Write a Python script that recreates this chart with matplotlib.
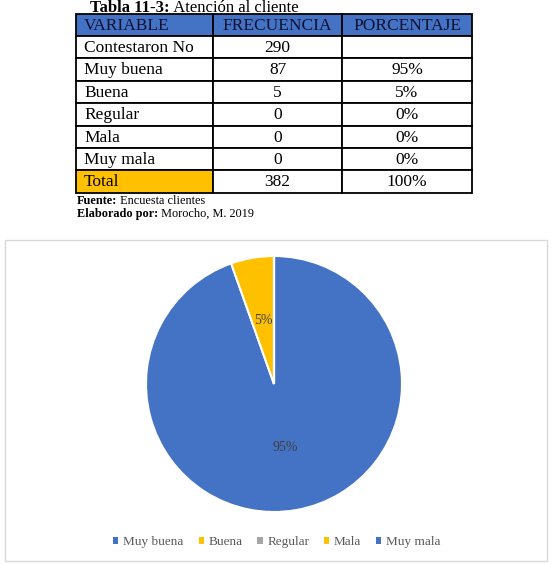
import matplotlib
matplotlib.use("Agg")
import matplotlib.pyplot as plt
from matplotlib.patches import Rectangle

# ---- data ----
table_header = ["VARIABLE", "FRECUENCIA", "PORCENTAJE"]
table_vars = ["Contestaron No", "Muy buena", "Buena", "Regular", "Mala", "Muy mala", "Total"]
table_freq = ["290", "87", "5", "0", "0", "0", "382"]
table_pct = ["", "95%", "5%", "0%", "0%", "0%", "100%"]

pie_labels = ["Muy buena", "Buena", "Regular", "Mala", "Muy mala"]
pie_values = [87, 5, 0, 0, 0]
pie_colors = ["#4472C4", "#FFC000", "#A5A5A5", "#FFC000", "#4472C4"]

W, H = 552, 564
fig = plt.figure(figsize=(W / 100, H / 100), dpi=100)
serif = "Liberation Serif"

# overlay axes in pixel coordinates
bg = fig.add_axes([0, 0, 1, 1])
bg.set_xlim(0, W)
bg.set_ylim(H, 0)
bg.axis("off")


def bold_then_normal(x, y, bold, normal, size):
    t1 = bg.text(x, y, bold, fontfamily=serif, fontweight="bold", fontsize=size, va="baseline", ha="left")
    bg.annotate(" " + normal, xy=(1, 0), xycoords=t1, va="bottom", ha="left",
                fontfamily=serif, fontsize=size)


# title
bold_then_normal(90, 12, "Tabla 11-3:", "Atención al cliente", 12)

# table
col_x = [76, 213, 342, 472]
top, row_h = 13.5, 22.4
rows = [table_header] + [[v, f, p] for v, f, p in zip(table_vars, table_freq, table_pct)]
for r, row in enumerate(rows):
    y0 = top + r * row_h
    for c in range(3):
        x0, x1 = col_x[c], col_x[c + 1]
        face = "white"
        if r == 0:
            face = "#4472C4"
        elif r == len(rows) - 1 and c == 0:
            face = "#FFC000"
        bg.add_patch(Rectangle((x0, y0), x1 - x0, row_h, facecolor=face, edgecolor="black", lw=1.3))
        txt = row[c]
        color = "#101030" if r == 0 else "black"
        if c == 0:
            bg.text(x0 + 8, y0 + row_h / 2 + 1, txt, fontfamily=serif, fontsize=12.5, va="center", ha="left", color=color)
        else:
            bg.text((x0 + x1) / 2, y0 + row_h / 2 + 1, txt, fontfamily=serif, fontsize=12.5, va="center", ha="center", color=color)

# notes
bold_then_normal(77, 204, "Fuente:", "Encuesta clientes", 8.8)
bold_then_normal(77, 217, "Elaborado por:", "Morocho, M. 2019", 8.8)

# chart box
bg.add_patch(Rectangle((4.5, 239.5), 542, 321, facecolor="none", edgecolor="#D9D9D9", lw=1.0))

# pie
cx, cy, rad = 274, 384, 128
ax = fig.add_axes([(cx - rad) / W, (H - cy - rad) / H, 2 * rad / W, 2 * rad / H])
wedges, texts, autotexts = ax.pie(
    pie_values, colors=pie_colors, startangle=90, counterclock=False,
    autopct=lambda p: f"{p:.0f}%" if p > 0 else "", pctdistance=0.5,
    wedgeprops=dict(edgecolor="white", linewidth=1.5),
    textprops=dict(fontfamily=serif, fontsize=10, color="#404040"),
)
ax.set_xlim(-1, 1)
ax.set_ylim(-1, 1)

# legend
handles = [Rectangle((0, 0), 1, 1, facecolor=c) for c in pie_colors]
leg = fig.legend(handles, pie_labels, loc="center", bbox_to_anchor=(277 / W, 1 - 542 / H), ncol=5,
                 frameon=False, handlelength=0.38, handleheight=0.38, handletextpad=0.35, columnspacing=1.15,
                 prop=dict(family=serif, size=9.5))
for t in leg.get_texts():
    t.set_color("#595959")

fig.savefig("out.png", dpi=100)
